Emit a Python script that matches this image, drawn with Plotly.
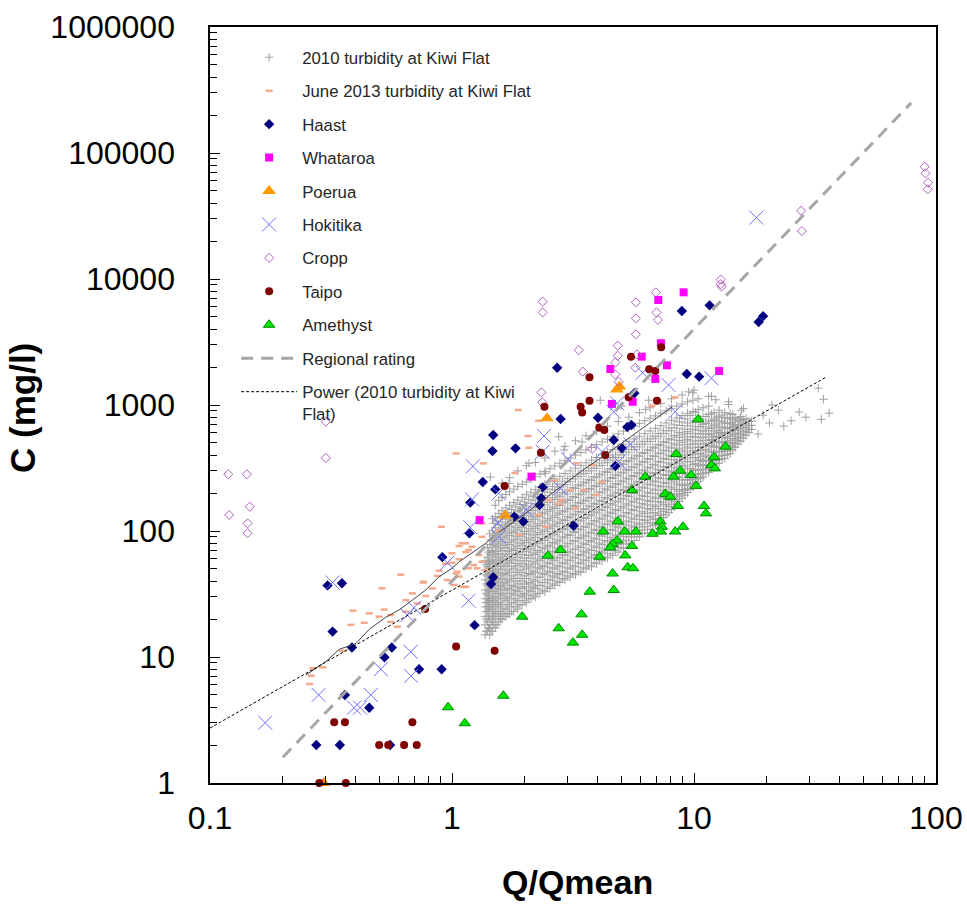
import plotly.graph_objects as go

# ---------------- data ----------------
# 2010 turbidity at Kiwi Flat: dense cloud, listed column by column
kiwi2010_q_cols = [1.37, 1.40, 1.43, 1.47, 1.51, 1.56, 1.61, 1.67, 1.73, 1.80, 1.87, 1.95,
                   2.03, 2.12, 2.21, 2.31, 2.42, 2.54, 2.66, 2.79, 2.93, 3.08, 3.24, 3.41,
                   3.58, 3.77, 3.96, 4.17, 4.39, 4.62, 4.86, 5.11, 5.38, 5.66, 5.95, 6.26,
                   6.59, 6.93, 7.29, 7.67, 8.07, 8.49, 8.93, 9.40, 9.89, 10.4, 10.9, 11.5,
                   12.1, 12.7, 13.4, 14.1, 14.8, 15.6, 16.4, 17.3]
kiwi2010_c_cols = [
    [15, 18, 21, 25, 29, 34, 41, 49, 58],
    [16, 19, 23, 27, 31, 37, 44, 52, 62, 74],
    [15, 17, 20, 24, 28, 33, 39, 46, 55, 65, 78, 95],
    [16, 19, 22, 26, 30, 36, 42, 50, 59, 70, 84, 100, 125],
    [17, 20, 23, 27, 32, 38, 45, 53, 63, 75, 89, 106, 130, 160],
    [19, 21, 25, 29, 34, 40, 47, 56, 66, 79, 94, 112, 138, 175],
    [20, 22, 26, 31, 36, 42, 50, 59, 70, 83, 99, 118, 145, 185, 240],
    [21, 24, 28, 32, 38, 45, 53, 63, 74, 88, 104, 124, 152, 195],
    [22, 25, 29, 34, 40, 47, 56, 66, 78, 92, 109, 130, 160, 205, 265],
    [23, 27, 31, 36, 42, 50, 59, 70, 82, 97, 115, 137, 168, 215],
    [24, 28, 33, 38, 45, 53, 62, 73, 86, 102, 121, 144, 176, 225, 300],
    [26, 30, 35, 40, 47, 55, 65, 77, 91, 107, 127, 151, 185, 235],
    [27, 31, 36, 42, 50, 58, 69, 81, 95, 112, 133, 158, 194, 245, 330],
    [29, 33, 38, 45, 52, 61, 72, 85, 100, 118, 139, 166, 203, 258],
    [30, 35, 40, 47, 55, 65, 76, 89, 105, 124, 146, 174, 213, 270, 350],
    [32, 37, 43, 50, 58, 68, 80, 94, 110, 130, 153, 183, 224, 283],
    [33, 39, 45, 52, 61, 72, 84, 99, 116, 137, 161, 192, 235, 297, 380],
    [35, 41, 47, 55, 64, 75, 88, 104, 122, 144, 169, 202, 247, 312],
    [37, 43, 50, 58, 68, 79, 93, 109, 128, 151, 178, 212, 259, 328, 430],
    [39, 45, 52, 61, 71, 83, 98, 115, 135, 159, 187, 223, 272, 345],
    [41, 47, 55, 64, 75, 88, 103, 121, 142, 167, 197, 234, 286, 362, 470],
    [43, 50, 58, 67, 79, 92, 108, 127, 149, 175, 207, 246, 300, 380],
    [45, 52, 61, 71, 83, 97, 114, 134, 157, 184, 217, 259, 315, 400, 520],
    [47, 55, 64, 74, 87, 102, 120, 141, 165, 194, 228, 272, 331, 420],
    [50, 58, 67, 78, 91, 107, 126, 148, 173, 204, 240, 286, 348, 440, 570],
    [52, 61, 70, 82, 96, 112, 132, 155, 182, 214, 252, 300, 365, 460],
    [55, 64, 74, 86, 101, 118, 139, 163, 191, 225, 265, 315, 383, 485, 620],
    [58, 67, 78, 91, 106, 124, 146, 171, 201, 236, 278, 331, 402, 510],
    [61, 70, 82, 96, 112, 131, 153, 180, 211, 248, 292, 348, 422, 535, 680],
    [64, 74, 86, 101, 118, 138, 161, 189, 222, 261, 307, 365, 443, 560],
    [68, 78, 91, 106, 124, 145, 170, 199, 233, 274, 322, 383, 465, 590, 740],
    [73, 83, 96, 112, 130, 152, 179, 209, 245, 288, 338, 402, 488, 620],
    [79, 90, 101, 118, 137, 160, 188, 220, 258, 303, 355, 422, 512, 650, 800],
    [84, 95, 107, 124, 145, 169, 198, 231, 271, 318, 373, 443, 538, 680],
    [90, 101, 113, 131, 153, 178, 208, 243, 285, 334, 392, 465, 565, 715, 870],
    [96, 108, 121, 138, 161, 188, 219, 256, 300, 351, 412, 488, 593, 750],
    [103, 116, 129, 147, 171, 199, 232, 271, 316, 370, 433, 513, 622, 785, 950],
    [112, 125, 139, 156, 181, 211, 245, 286, 333, 389, 455, 539, 653, 820],
    [122, 136, 150, 168, 193, 224, 260, 302, 351, 410, 478, 566, 686, 860, 1030],
    [134, 148, 163, 180, 206, 238, 276, 320, 371, 432, 503, 595, 720, 900],
    [148, 163, 178, 196, 220, 254, 293, 339, 392, 455, 529, 625, 756, 940, 1120],
    [164, 179, 195, 213, 236, 271, 312, 360, 415, 480, 556, 656, 790, 980],
    [182, 198, 214, 232, 254, 291, 333, 382, 439, 506, 585, 688, 825, 1020, 1200],
    [202, 218, 236, 256, 278, 312, 356, 406, 464, 533, 614, 720, 860, 1060],
    [224, 241, 259, 280, 303, 336, 381, 432, 491, 561, 643, 750, 890, 1090, 1250],
    [246, 264, 284, 305, 330, 363, 408, 460, 519, 590, 672, 780, 920, 1120],
    [268, 287, 308, 331, 356, 392, 438, 490, 550, 620, 702, 810, 950],
    [292, 312, 334, 358, 384, 425, 471, 523, 582, 652, 735, 840, 980],
    [318, 339, 362, 387, 421, 463, 510, 562, 621, 690, 770, 870],
    [345, 368, 393, 424, 463, 506, 553, 606, 666, 735, 815, 910],
    [375, 399, 432, 470, 511, 556, 605, 660, 722, 790, 870],
    [410, 444, 481, 521, 565, 612, 664, 721, 785, 855],
    [460, 497, 537, 580, 627, 678, 734, 796],
    [515, 555, 598, 645, 695, 750, 810],
    [575, 620, 668, 720, 780],
    [640, 690, 745],
]
# in-between columns of the dense core of the same cloud
kiwi2010_q_mid = [1.385, 1.415, 1.45, 1.49, 1.535, 1.585, 1.64, 1.70, 1.765, 1.835, 1.91, 1.99,
                  2.075, 2.165, 2.26, 2.365, 2.48, 2.60, 2.725, 2.86, 3.005, 3.16, 3.325, 3.495,
                  3.675, 3.865, 4.065, 4.28, 4.505, 4.74, 4.985, 5.245, 5.52, 5.805, 6.105,
                  6.425, 6.76, 7.11, 7.48, 7.87, 8.28, 8.71, 9.165, 9.645, 10.15, 10.65, 11.2,
                  11.8, 12.4, 13.05, 13.75, 14.45, 15.2, 16.0, 16.85]
kiwi2010_c_mid = [
    [16, 20, 23, 27, 32, 38, 45, 54],
    [17, 21, 25, 29, 34, 40, 48, 57, 68],
    [16, 18, 21, 25, 29, 35, 41, 48, 57, 68, 85],
    [18, 21, 24, 28, 33, 39, 46, 55, 65, 77, 92, 115],
    [18, 22, 26, 30, 35, 41, 49, 58, 69, 82, 97, 120],
    [20, 23, 27, 32, 37, 44, 52, 61, 73, 86, 103, 128],
    [21, 24, 29, 34, 39, 46, 55, 65, 77, 91, 108, 135],
    [22, 26, 30, 35, 41, 49, 58, 69, 81, 96, 114, 140],
    [23, 27, 32, 37, 44, 52, 61, 72, 85, 100, 119, 148],
    [25, 29, 34, 40, 47, 55, 65, 76, 90, 106, 126, 155],
    [26, 31, 36, 42, 49, 58, 68, 80, 94, 111, 132, 162],
    [28, 32, 38, 44, 52, 61, 72, 84, 99, 117, 139, 170],
    [29, 34, 39, 46, 54, 64, 75, 88, 104, 123, 146, 178],
    [31, 36, 41, 48, 57, 67, 79, 93, 109, 129, 153, 187],
    [32, 37, 43, 51, 60, 70, 83, 97, 114, 135, 160, 196],
    [34, 39, 46, 53, 63, 74, 87, 102, 120, 141, 168, 205],
    [36, 41, 48, 56, 66, 77, 91, 107, 126, 148, 176, 215],
    [38, 44, 51, 59, 69, 81, 96, 112, 132, 155, 184, 225],
    [40, 46, 53, 62, 73, 85, 100, 118, 139, 163, 193, 236],
    [42, 48, 56, 65, 76, 90, 105, 124, 145, 171, 202, 248],
    [44, 51, 59, 69, 80, 94, 111, 130, 152, 179, 212, 260],
    [46, 53, 62, 72, 84, 99, 116, 136, 160, 188, 222, 272],
    [48, 56, 65, 76, 89, 104, 122, 143, 168, 197, 233, 285],
    [51, 59, 69, 80, 93, 109, 128, 150, 176, 207, 245, 300],
    [53, 62, 72, 84, 98, 115, 135, 158, 185, 218, 257, 315],
    [56, 65, 76, 88, 103, 121, 142, 166, 195, 229, 270, 330],
    [59, 69, 80, 93, 109, 127, 149, 175, 205, 241, 284, 347],
    [62, 72, 84, 98, 114, 134, 157, 184, 216, 253, 298, 365],
    [66, 76, 89, 103, 120, 141, 165, 193, 227, 266, 313, 383],
    [70, 80, 93, 109, 127, 148, 173, 203, 238, 279, 329, 402],
    [74, 85, 98, 114, 133, 156, 182, 213, 250, 293, 345, 422],
    [79, 90, 104, 120, 140, 164, 192, 224, 263, 308, 362, 443],
    [84, 96, 110, 127, 148, 173, 202, 236, 276, 323, 380, 465],
    [90, 102, 116, 134, 156, 182, 212, 248, 290, 340, 400, 488],
    [96, 108, 123, 142, 165, 192, 223, 261, 305, 357, 420, 512],
    [103, 116, 131, 151, 175, 203, 236, 275, 321, 375, 441, 538],
    [110, 124, 140, 161, 186, 215, 250, 290, 338, 395, 463, 565],
    [118, 133, 150, 172, 198, 229, 265, 307, 357, 416, 487, 594],
    [128, 143, 161, 184, 212, 244, 281, 325, 377, 438, 512, 625],
    [140, 156, 174, 198, 227, 261, 300, 346, 400, 463, 540, 658],
    [155, 171, 189, 214, 245, 281, 322, 370, 426, 492, 572, 695],
    [172, 189, 207, 233, 265, 303, 346, 396, 454, 523, 606, 735],
    [192, 210, 229, 255, 288, 327, 372, 424, 485, 557, 643, 778],
    [214, 233, 253, 280, 314, 354, 401, 455, 518, 593, 683, 825],
    [238, 258, 280, 308, 342, 383, 432, 489, 555, 633, 726, 875],
    [262, 283, 306, 335, 371, 414, 465, 524, 593, 674, 770],
    [288, 310, 334, 364, 401, 445, 498, 559, 630, 713, 810],
    [315, 338, 363, 394, 432, 478, 532, 594, 667, 752, 850],
    [343, 367, 393, 425, 465, 512, 568, 632, 706, 792],
    [373, 398, 426, 460, 501, 550, 606, 671, 746, 832],
    [405, 432, 462, 498, 541, 591, 648, 714, 790],
    [440, 470, 503, 541, 586, 638, 697, 765, 840],
    [490, 522, 557, 597, 643, 696, 756],
    [545, 580, 618, 661, 709, 765],
    [605, 645, 690, 740],
]
kiwi2010_sparse_q = [16.0, 18.4, 19.3, 22.3, 25.2, 27.2, 32.6, 34.3, 33.6, 36.2, 13.9, 12.3,
                     11.5, 10.0, 15.5, 14.5, 12.9, 11.9, 9.5, 11.8, 13.9, 15.7, 6.5, 4.1,
                     6.3, 5.0, 2.76, 2.08, 2.43, 1.72, 1.44, 2.9, 3.45, 20.5, 23.5, 29.0, 21.0]
kiwi2010_sparse_c = [940, 588, 830, 910, 750, 880, 1360, 1110, 770, 860, 1010, 1100,
                     1170, 1310, 785, 675, 595, 525, 1270, 1170, 1060, 910, 1090, 1090,
                     920, 980, 560, 345, 287, 239, 268, 440, 510, 720, 680, 800, 1000]

june2013_q = [1.04, 1.35, 0.903, 1.14, 1.07, 1.21, 1.14, 1.0, 1.29, 1.33, 1.0, 1.17, 1.05, 0.884,
              0.614, 0.513, 0.759, 0.87, 0.956, 1.02, 1.11, 0.83, 0.686, 0.779, 0.644, 0.39,
              0.455, 0.524, 0.558, 0.5, 0.382, 0.434, 0.558, 0.595, 0.644, 0.72, 0.353, 0.292,
              0.266, 0.262, 0.258, 1.88, 2.06, 2.08, 1.82, 3.5, 3.95, 2.83, 3.24, 1.56, 1.33,
              1.89, 1.07, 0.94, 1.23, 1.38, 1.04, 0.762, 1.14, 2.44, 2.28, 6.7, 8.36, 1.49,
              1.33, 1.10, 1.17, 1.27, 1.07, 2.66, 3.26, 3.79, 4.17, 3.08, 2.51, 2.76, 2.28]
june2013_c = [413, 344, 108, 80, 76, 75, 68, 66.5, 64.5, 57, 56, 50.6, 47.5, 48.4,
              45, 35.1, 39, 44, 40.8, 37.3, 36.1, 35, 32, 30.5, 28.3, 23.3,
              22.2, 23.8, 21.5, 20.9, 18, 18.7, 19, 17.4, 22.9, 26.6, 11.2, 8.28,
              8.13, 7.1, 6.1, 912, 568, 458, 289, 211, 193, 176, 151, 100, 90,
              93, 59.6, 55, 53.7, 49, 46, 39.6, 36, 108, 750, 984, 1150, 211,
              115, 80, 70.7, 50.6, 43.5, 251, 344, 334, 245, 211, 176, 164, 134]

haast_q = [1.48, 1.47, 1.34, 1.51, 1.19, 1.18, 0.912, 1.48, 1.45, 0.306, 0.351, 0.321, 1.24,
           0.386, 0.564, 0.526, 0.731, 0.906, 0.361, 0.455, 0.275, 0.344, 0.555,
           2.72, 8.91, 11.6, 9.34, 10.5, 5.67, 4.01, 2.81, 18.5, 19.3,
           1.83, 4.66, 2.37, 2.34, 2.30, 1.81, 1.97, 3.18, 5.51, 5.3, 5.04, 4.73]
haast_c = [578, 431, 245, 214, 168, 96, 62, 43, 38, 37, 38.5, 15.9, 17.9,
           11.9, 11.9, 9.95, 8.0, 8.0, 5.0, 3.96, 2.0, 2.0, 2.0,
           1977, 5570, 6180, 1762, 1679, 1238, 793, 774, 4560, 5070,
           453, 527, 222, 182, 161, 130, 119, 110, 694, 670, 453, 328]

whataroa_q = [9.06, 7.12, 7.3, 6.08, 4.51, 7.73, 6.92, 12.7, 4.58, 5.58, 2.13, 1.30]
whataroa_c = [7840, 6810, 3090, 2420, 1930, 2065, 1610, 1860, 1020, 1060, 270, 122]

poerua_q = [0.295, 1.66, 2.47, 4.92, 4.8]
poerua_c = [1.0, 132, 784, 1400, 1330]

hokitika_q = [1.22, 1.21, 1.19, 0.957, 0.321, 1.17, 0.697, 0.654, 0.675, 0.508, 0.678, 0.281,
              0.462, 0.394, 0.417, 0.169, 2.40, 3.02, 2.81, 1.56, 2.03, 1.55, 1.56, 4.17,
              4.66, 6.13, 7.85, 11.8, 4.81, 8.36, 18.1, 2.37, 4.88, 5.46]
hokitika_c = [326, 178, 107, 56, 39, 28, 24.6, 21.5, 11.0, 8.0, 7.07, 5.0,
              5.0, 3.96, 3.96, 3.01, 568, 371, 218, 199, 147, 116, 90, 426,
              885, 1803, 1442, 1630, 1031, 885, 30700, 426, 355, 488]

cropp_q = [0.301, 0.301, 0.119, 0.142, 0.146, 0.12, 0.143, 0.143,
           2.37, 2.37, 5.75, 5.75, 5.75, 6.96, 7.0, 7.1, 3.34, 4.84, 4.84, 4.73, 3.47,
           4.73, 5.72, 5.81, 4.88, 2.34, 2.36, 12.9, 12.9, 13.0, 27.7, 27.9,
           89.8, 90.5, 92.7, 92.4, 3.79]
cropp_c = [737, 380, 282, 282, 156, 134, 115, 96,
           6610, 5430, 6530, 4870, 3640, 7840, 5430, 4730, 2730, 2960, 2460, 2170, 1840,
           1750, 1980, 2520, 1530, 1260, 1050, 9900, 9100, 8700, 34800, 24000,
           77800, 69000, 58100, 51500, 448]

taipo_q = [7.32, 5.49, 3.70, 6.53, 6.92, 5.37, 7.03, 3.70, 3.40, 3.45, 2.41, 4.06, 4.26, 4.3,
           2.33, 1.65, 0.774, 1.04, 1.50, 0.326, 0.361, 0.686, 0.5, 0.545, 0.634, 0.715,
           0.283, 0.364]
taipo_c = [2870, 2420, 1660, 1920, 1860, 1150, 1080, 1080, 970, 873, 970, 664, 634, 401,
           417, 228, 24, 12.1, 11.2, 3.03, 3.03, 3.03, 2, 2, 2, 2,
           1, 1]

amethyst_q = [10.4, 13.5, 12.1, 11.8, 12.2, 8.45, 8.77, 8.23, 9.73, 10.2, 6.29, 5.54, 7.6,
              7.98, 8.58, 11.0, 11.2, 4.84, 7.26, 7.37, 9.0, 8.36, 7.3, 6.74, 5.75, 5.17,
              4.21, 4.81, 4.61, 4.51, 5.54, 5.2, 4.07, 5.32, 5.6, 4.61, 4.66, 2.81, 2.49,
              3.71, 1.95, 2.76, 3.16, 3.45, 3.43, 1.63, 0.963, 1.13]
amethyst_c = [769, 467, 385, 334, 314, 408, 301, 270, 278, 228, 270, 211, 197,
              187, 158, 158, 138, 119, 119, 108, 108, 99, 99, 95, 99, 99,
              99, 84, 79, 74, 76, 64, 62.5, 51.5, 50.6, 46, 34, 70.7, 63.7,
              33, 20.9, 16.9, 13, 15, 21.8, 4.93, 3.99, 2.98]

regional_q = [0.2, 79.0]
regional_c = [1.6, 250000]

power2010_q = [0.1, 35.2]
power2010_c = [2.73, 1668]

june_line_q = [0.249, 0.301, 0.342, 0.401, 0.455, 0.533, 0.604, 0.686, 0.779, 0.884, 1.0,
               1.07, 1.29, 1.38, 1.47, 1.89, 2.59, 3.56, 4.3, 8.15]
june_line_c = [7.2, 9.18, 11.5, 12.8, 16.6, 20.7, 23.6, 28.3, 34, 43.4, 50.6,
               57, 73, 80, 90, 126, 199, 315, 401, 970]

x_tickvals = [0.1, 1, 10, 100]
x_ticktext = ["0.1", "1", "10", "100"]
y_tickvals = [1, 10, 100, 1000, 10000, 100000, 1000000]
y_ticktext = ["1", "10", "100", "1000", "10000", "100000", "1000000"]

# ---------------- build ----------------
kiwi_q, kiwi_c = [], []
for qs, cols in ((kiwi2010_q_cols, kiwi2010_c_cols), (kiwi2010_q_mid, kiwi2010_c_mid)):
    for q, cs in zip(qs, cols):
        for c in cs:
            kiwi_q.append(q)
            kiwi_c.append(c)
kiwi_q += kiwi2010_sparse_q
kiwi_c += kiwi2010_sparse_c

FONT = "Liberation Sans, Arial, sans-serif"
NBSP = "\u00a0"
fig = go.Figure()

def add(name, q, c, marker, group, clip=True):
    fig.add_trace(go.Scatter(x=q, y=c, mode="markers", name=name, marker=marker,
                             legendgroup=group, cliponaxis=clip))

add("2010 turbidity at Kiwi Flat", kiwi_q, kiwi_c,
    dict(symbol="cross-thin", size=6, line=dict(color="#A0A0A0", width=1)), "g1")
add("June 2013 turbidity at Kiwi Flat", june2013_q, june2013_c,
    dict(symbol="line-ew", size=5, line=dict(color="#F4A98A", width=2.5)), "g2")
add("Haast", haast_q, haast_c, dict(symbol="diamond", size=8, color="#000080"), "g3")
add("Whataroa", whataroa_q, whataroa_c, dict(symbol="square", size=8, color="#FF00FF"), "g4")
add("Poerua", poerua_q, poerua_c, dict(symbol="triangle-up", size=12, color="#FF9900"), "g5", clip=False)
add("Hokitika", hokitika_q, hokitika_c,
    dict(symbol="x-thin", size=14, line=dict(color="#6E6EFF", width=1)), "g6")
add("Cropp", cropp_q, cropp_c,
    dict(symbol="diamond-open", size=7, color="#B060C0", line=dict(color="#B060C0", width=1)), "g7")
add("Taipo", taipo_q, taipo_c, dict(symbol="circle", size=8, color="#800000"), "g8", clip=False)
add("Amethyst", amethyst_q, amethyst_c,
    dict(symbol="triangle-up", size=10, color="#00E600", line=dict(color="#008A00", width=1)), "g9")

fig.add_trace(go.Scatter(x=june_line_q, y=june_line_c, mode="lines", showlegend=False,
                         line=dict(color="#404040", width=1), hoverinfo="skip"))
fig.add_trace(go.Scatter(x=regional_q, y=regional_c, mode="lines", name="Regional rating",
                         legendgroup="g10", line=dict(color="#A6A6A6", width=3, dash="12px,8px")))
fig.add_trace(go.Scatter(x=power2010_q, y=power2010_c, mode="lines",
                         name="Power (2010 turbidity at Kiwi<br>Flat)", legendgroup="g11",
                         line=dict(color="#000000", width=1, dash="3px,2px")))

axis_common = dict(type="log", showline=True, linewidth=2, linecolor="black", mirror=True,
                   showgrid=False, zeroline=False, ticks="inside", ticklen=10, tickwidth=1,
                   tickcolor="black", automargin=False,
                   minor=dict(ticks="inside", ticklen=7, tickwidth=1, tickcolor="black",
                              dtick="D1", showgrid=False),
                   tickfont=dict(family=FONT, size=32, color="black"))

fig.update_xaxes(**axis_common, range=[-1, 2], tickmode="array", tickvals=x_tickvals,
                 ticktext=x_ticktext, ticklabelstandoff=6)
fig.update_yaxes(**axis_common, range=[0, 6], tickmode="array", tickvals=y_tickvals,
                 ticktext=[t + NBSP * 3 for t in y_ticktext])

fig.update_layout(
    width=967, height=914,
    margin=dict(l=210, r=31, t=27, b=131),
    paper_bgcolor="white", plot_bgcolor="white",
    legend=dict(x=0.036, y=0.983, xanchor="left", yanchor="top", bgcolor="rgba(0,0,0,0)",
                font=dict(family=FONT, size=16.8, color="#262626"), tracegroupgap=8.6,
                itemwidth=56, valign="top"),
    annotations=[
        dict(text="<b>Q/Qmean</b>", xref="paper", yref="paper", x=0.506, y=-0.131,
             xanchor="center", yanchor="middle", showarrow=False,
             font=dict(family=FONT, size=34, color="black")),
        dict(text="<b>C (mg/l)</b>", xref="paper", yref="paper", x=-0.259, y=0.496,
             xanchor="center", yanchor="middle", showarrow=False, textangle=-90,
             font=dict(family=FONT, size=35, color="black")),
    ],
)

fig.write_html("out.html", config={"displayModeBar": False},
               post_script="document.body.style.margin='0px';")
